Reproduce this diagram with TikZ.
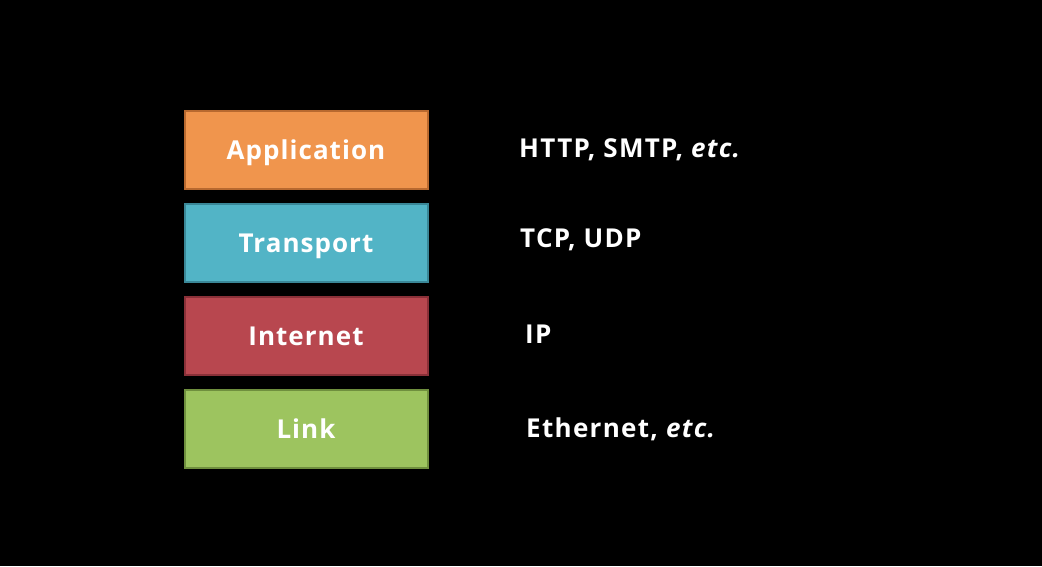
\documentclass[tikz,border=0pt]{standalone}
\usepackage{fontspec}
\setmainfont{Open Sans}
\begin{document}
\begin{tikzpicture}[x=1pt,y=-1pt,
  layer/.style={draw, line width=2pt, minimum width=243pt, minimum height=78pt,
    inner sep=0pt, text height=22pt, text depth=3pt, text=white,
    font=\bfseries\fontsize{26}{30}\selectfont\addfontfeatures{LetterSpace=4}},
  proto/.style={anchor=base west, inner sep=0pt, text=white,
    font=\bfseries\fontsize{26}{30}\selectfont\addfontfeatures{LetterSpace=5}}]
\definecolor{appfill}{HTML}{F0954D}\definecolor{appline}{HTML}{B8692F}
\definecolor{trfill}{HTML}{52B4C6}\definecolor{trline}{HTML}{3A8797}
\definecolor{inetfill}{HTML}{B8474F}\definecolor{inetline}{HTML}{8A3038}
\definecolor{linkfill}{HTML}{9DC45F}\definecolor{linkline}{HTML}{6F8F3E}
\fill[black] (0,0) rectangle (1042,566);
\useasboundingbox (0,0) rectangle (1042,566);
% protocol stack
\node[layer, fill=appfill, draw=appline] (app) at (306,149.5) {Application};
\node[layer, fill=trfill, draw=trline] (tr) at (306,242.5) {Transport};
\node[layer, fill=inetfill, draw=inetline] (inet) at (306,335.5) {Internet};
\node[layer, fill=linkfill, draw=linkline] (link) at (306,428.5) {Link};
% example protocols per layer
\node[proto] (pa) at (519,157) {HTTP, SMTP, \textit{etc.}};
\node[proto] (pt) at (520,247) {TCP, UDP};
\node[proto] (pi) at (525,343) {IP};
\node[proto] (pl) at (526,437) {Ethernet, \textit{etc.}};
\end{tikzpicture}
\end{document}
